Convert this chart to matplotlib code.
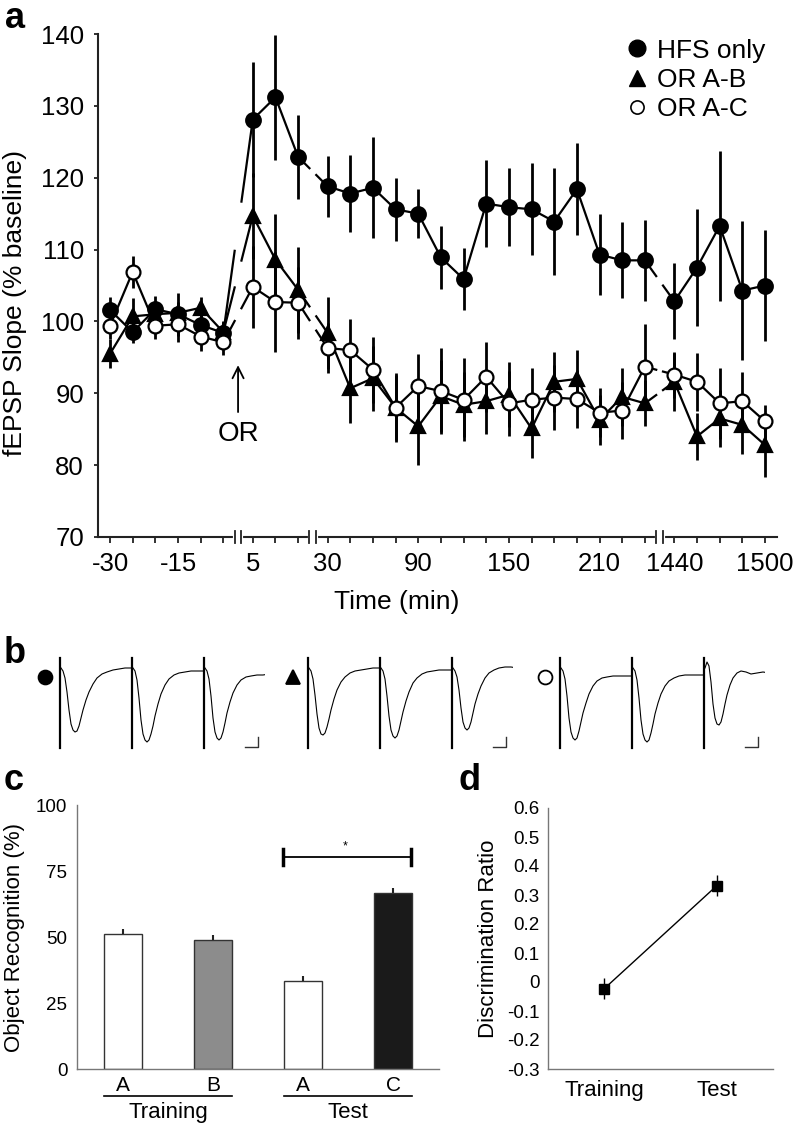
import numpy as np
import matplotlib.pyplot as plt
from matplotlib.lines import Line2D
import matplotlib.transforms as mtransforms

plt.rcParams['font.family'] = ['Liberation Sans', 'DejaVu Sans']

# ---- panel a: fEPSP slope (% baseline) ----
times_base = [-30, -25, -20, -15, -10, -5]
times_post = [5, 10, 15]
times_mid = [30, 45, 60, 75, 90, 105, 120, 135, 150, 165, 180, 195, 210, 225, 240]
times_late = [1440, 1455, 1470, 1485, 1500]
time_labels = [-30, -15, 5, 30, 90, 150, 210, 1440, 1500]

hfs_only = [101.6, 98.5, 101.7, 101.0, 99.5, 98.4,
            128.1, 131.2, 122.9,
            118.8, 117.8, 118.6, 115.6, 115.0, 108.9, 105.9, 116.4, 115.9, 115.6,
            113.9, 118.4, 109.3, 108.5, 108.5,
            102.8, 107.5, 113.3, 104.3, 105.0]
hfs_only_err = [1.8, 1.5, 1.8, 3.0, 1.5, 1.5,
                8.0, 8.7, 5.8,
                4.2, 5.3, 7.0, 4.4, 3.4, 4.4, 4.3, 6.0, 5.4, 6.4,
                7.5, 6.4, 5.6, 5.3, 5.6,
                5.3, 8.2, 10.4, 9.7, 7.7]
or_ab = [95.5, 100.7, 101.0, 101.2, 101.9, 98.5,
         114.7, 108.6, 104.4,
         98.4, 90.7, 92.1, 88.0, 85.4, 89.6, 88.4, 88.9, 89.8, 85.1,
         91.6, 92.0, 86.3, 89.5, 88.6,
         91.6, 84.0, 86.5, 85.6, 82.8]
or_ab_err = [2.0, 2.5, 1.5, 1.5, 1.5, 1.5,
             6.0, 6.3, 6.0,
             5.0, 4.8, 4.5, 4.8, 5.4, 5.0, 4.5, 4.5, 4.5, 4.1,
             4.2, 4.0, 3.5, 4.0, 3.2,
             4.0, 3.3, 4.0, 4.0, 4.4]
or_ac = [99.4, 106.9, 99.4, 99.6, 97.9, 97.1,
         104.8, 102.7, 102.6,
         96.3, 96.0, 93.3, 88.0, 91.0, 90.3, 89.1, 92.3, 88.6, 89.1,
         89.4, 89.2, 87.3, 87.6, 93.7,
         92.6, 91.6, 88.6, 88.9, 86.1]
or_ac_err = [1.8, 2.2, 1.8, 2.5, 2.0, 1.8,
             5.7, 6.9, 5.0,
             3.5, 4.3, 4.6, 4.5, 4.4, 6.0, 5.8, 4.9, 4.5, 4.4,
             4.5, 4.0, 3.4, 4.0, 5.9,
             3.2, 4.0, 4.9, 4.1, 2.3]

# ---- panel b: example fEPSP sweeps (pre, post, 24 h) ----
sweep_t = [0, 2, 4, 6, 8, 10, 12, 14, 16, 18, 20, 22, 25, 28, 32, 36, 41, 46, 52, 58, 64, 70]
hfs_sweeps = [
    [0, -3, -10, -24, -42, -56, -62, -64, -63, -58, -50, -42, -32, -24, -16, -10, -6, -4, -2, -1, 0, 0],
    [0, -3, -12, -30, -52, -66, -72, -74, -72, -66, -58, -48, -36, -26, -17, -11, -7, -5, -4, -3, -3, -3],
    [0, -3, -11, -28, -50, -64, -70, -72, -70, -64, -55, -45, -34, -25, -17, -12, -9, -8, -7, -7, -6, -6],
]
orab_sweeps = [
    [0, -3, -11, -27, -46, -60, -66, -67, -65, -59, -51, -42, -31, -22, -14, -9, -5, -3, -2, -1, 0, 0],
    [0, -3, -11, -28, -48, -62, -68, -70, -68, -62, -53, -44, -33, -24, -15, -10, -6, -4, -3, -2, -2, -2],
    [0, -3, -9, -22, -40, -54, -60, -62, -60, -54, -45, -36, -26, -18, -10, -5, -2, 0, 1, 1, 0, -1],
]
orac_sweeps = [
    [0, -3, -11, -28, -50, -64, -70, -72, -70, -63, -54, -45, -35, -26, -18, -13, -10, -9, -8, -8, -8, -8],
    [0, -3, -12, -30, -52, -66, -72, -74, -72, -65, -56, -46, -35, -26, -18, -13, -10, -8, -7, -7, -7, -7],
    [0, 6, 2, -14, -36, -50, -56, -57, -54, -46, -36, -27, -17, -10, -5, -3, -4, -6, -5, -4, -5, -4],
]

# ---- panel c: object recognition ----
obj_labels = ['A', 'B', 'A', 'C']
obj_groups = ['Training', 'Test']
obj_values = [51.0, 49.0, 33.3, 66.8]
obj_err = [1.9, 1.8, 1.9, 1.6]
obj_colors = ['white', '#8c8c8c', 'white', '#1a1a1a']

# ---- panel d: discrimination ratio ----
disc_labels = ['Training', 'Test']
disc_values = [-0.023, 0.332]
disc_err = [0.036, 0.036]
disc_ticks = [-0.3, -0.2, -0.1, 0, 0.1, 0.2, 0.3, 0.4, 0.5, 0.6]

W, H = 797, 1126
fig = plt.figure(figsize=(W / 100, H / 100), dpi=100)


def px_axes(x0, y0, x1, y1):
    # pixel box (top-left origin) -> figure axes
    return fig.add_axes([x0 / W, 1 - y1 / H, (x1 - x0) / W, (y1 - y0) / H])


def panel_letter(x, y_base, s):
    fig.text(x / W, 1 - y_base / H, s, fontsize=26, fontweight='bold',
             va='baseline', ha='left')


# ================= panel a =================
ax = px_axes(98, 34, 777, 537)
segments = [times_base, times_post, times_mid, times_late]
seg_gap = 0.3
seg_pos = []
start = 0
for k, seg in enumerate(segments):
    seg_pos.append(np.arange(start, start + len(seg)) + seg_gap * k)
    start += len(seg)
all_pos = np.concatenate(seg_pos)
all_times = sum(segments, [])
breaks = [(seg_pos[k][-1] + seg_pos[k + 1][0]) / 2 for k in range(len(segments) - 1)]
half_gap = 0.15


def draw_series(vals, errs, marker, face, ms, z):
    vals = np.asarray(vals)
    ax.errorbar(all_pos, vals, yerr=errs, fmt='none', ecolor='k', elinewidth=2.0,
                capsize=0, zorder=z)
    idx = 0
    for k, pos in enumerate(seg_pos):
        n = len(pos)
        ax.plot(pos, vals[idx:idx + n], color='k', lw=1.6, zorder=z + 0.1)
        if k < len(seg_pos) - 1:
            xa, ya = pos[-1], vals[idx + n - 1]
            xb, yb = seg_pos[k + 1][0], vals[idx + n]
            xm1, xm2 = breaks[k] - half_gap, breaks[k] + half_gap
            ym1 = ya + (yb - ya) * (xm1 - xa) / (xb - xa)
            ym2 = ya + (yb - ya) * (xm2 - xa) / (xb - xa)
            ax.plot([xa, xm1], [ya, ym1], color='k', lw=1.6, zorder=z + 0.1)
            ax.plot([xm2, xb], [ym2, yb], color='k', lw=1.6, zorder=z + 0.1)
        idx += n
    ax.plot(all_pos, vals, ls='none', marker=marker, ms=ms, mfc=face, mec='k',
            mew=1.6, zorder=z + 0.2)


draw_series(hfs_only, hfs_only_err, 'o', 'k', 10.5, 3)
draw_series(or_ab, or_ab_err, '^', 'k', 10, 4)
draw_series(or_ac, or_ac_err, 'o', 'white', 10, 5)

ax.set_xlim(-0.53, 29.43)
ax.set_ylim(70, 140)
ax.set_yticks(range(70, 141, 10))
ax.set_xticks(all_pos)
ax.set_xticklabels([str(t) if t in time_labels else '' for t in all_times])
ax.tick_params(axis='x', length=4.5, width=1.3, pad=6, labelsize=18.5, color='#222222')
ax.tick_params(axis='y', length=3, width=1.3, pad=7, labelsize=18.5, color='#222222')
for s in ['top', 'right']:
    ax.spines[s].set_visible(False)
for s in ['left', 'bottom']:
    ax.spines[s].set_linewidth(1.5)
    ax.spines[s].set_color('#222222')

# axis breaks
trans = mtransforms.blended_transform_factory(ax.transData, ax.transAxes)
for b in breaks:
    ax.plot([b - half_gap + 0.02, b + half_gap - 0.02], [0, 0], color='white', lw=3,
            transform=trans, clip_on=False, zorder=10)
    for xb in (b - half_gap, b + half_gap):
        ax.plot([xb, xb], [-0.011, 0.011], color='#222222', lw=1.3, transform=trans,
                clip_on=False, zorder=11)

ax.set_ylabel('fEPSP Slope (% baseline)', fontsize=19)
ax.yaxis.set_label_coords(-0.104, 0.465)
ax.set_xlabel('Time (min)', fontsize=19)
ax.xaxis.set_label_coords(0.44, -0.105)

ax.annotate('', xy=(breaks[0], 94.3), xytext=(breaks[0], 87.0),
            arrowprops=dict(arrowstyle='->', lw=1.3, color='k', mutation_scale=20))
ax.text(breaks[0], 84.3, 'OR', ha='center', va='center', fontsize=20)

handles = [Line2D([], [], ls='none', marker='o', ms=12, mfc='k', mec='k'),
           Line2D([], [], ls='none', marker='^', ms=11, mfc='k', mec='k'),
           Line2D([], [], ls='none', marker='o', ms=9.5, mfc='white', mec='k', mew=1.2)]
ax.legend(handles, ['HFS only', 'OR A-B', 'OR A-C'], loc='upper left',
          bbox_to_anchor=(0.763, 1.012), frameon=False, fontsize=19, handlelength=0.8,
          handletextpad=0.35, labelspacing=0.2, borderaxespad=0)

panel_letter(5, 27.5, 'a')

# ================= panel b =================
panel_letter(4, 663, 'b')
group_left = [40, 288, 540]
group_sweeps = [hfs_sweeps, orab_sweeps, orac_sweeps]
group_marker = [('o', 'k'), ('^', 'k'), ('o', 'white')]
sweep_step = 72
for gl, sweeps, (mk, mf) in zip(group_left, group_sweeps, group_marker):
    bx = px_axes(gl, 655, gl + 225, 755)
    bx.set_xlim(-20, 205)
    bx.set_ylim(-87, 13)
    bx.axis('off')
    for i, v in enumerate(sweeps):
        t0 = i * sweep_step
        bx.plot([t0, t0], [10, -80], color='k', lw=1.6)
        bx.plot(np.asarray(sweep_t) + t0 + 1, v, color='k', lw=0.8)
    bx.plot([185, 198, 198], [-79, -79, -69], color='#333333', lw=1.0)
    bx.plot([0.02], [0.78], marker=mk, ms=10, mfc=mf, mec='k', mew=1.3,
            transform=bx.transAxes, clip_on=False)

# ================= panel c =================
cx = px_axes(77, 805, 439, 1069)
xc = np.arange(len(obj_values))
cx.bar(xc, obj_values, width=0.43, color=obj_colors, edgecolor='#333333', lw=1.0,
       yerr=[np.zeros(len(obj_err)), obj_err], error_kw=dict(elinewidth=1.5, capsize=0,
                                                             ecolor='#222222'))
cx.set_xlim(-0.51, 3.51)
cx.set_ylim(0, 100)
cx.set_yticks([0, 25, 50, 75, 100])
cx.set_xticks(xc)
cx.set_xticklabels(obj_labels, fontsize=15)
cx.tick_params(axis='y', length=0, labelsize=13.5, pad=7)
cx.tick_params(axis='x', length=0, pad=5)
for s in ['top', 'right']:
    cx.spines[s].set_visible(False)
for s in ['left', 'bottom']:
    cx.spines[s].set_color('#777777')
    cx.spines[s].set_linewidth(1.0)
cx.set_ylabel('Object Recognition (%)', fontsize=16, labelpad=8)

ctrans = mtransforms.blended_transform_factory(cx.transData, cx.transAxes)
for g, name in enumerate(obj_groups):
    x0, x1 = 2 * g - 0.215, 2 * g + 1 + 0.215
    cx.plot([x0, x1], [-0.102, -0.102], color='k', lw=1.2, transform=ctrans, clip_on=False)
    cx.text(2 * g + 0.5, -0.165, name, ha='center', va='center', fontsize=16,
            transform=ctrans)

# significance bracket between Test A and Test C
sig_y = 80.3
cx.plot([2 - 0.22, 3 + 0.2], [sig_y, sig_y], color='k', lw=1.3)
for xe in (2 - 0.22, 3 + 0.2):
    cx.plot([xe, xe], [sig_y - 3, sig_y + 3], color='k', lw=2.5)
cx.text(2.47, sig_y + 4.0, '*', ha='center', va='center', fontsize=9)

panel_letter(4, 790, 'c')

# ================= panel d =================
dx = px_axes(548, 808, 773, 1069)
dx.errorbar(range(len(disc_values)), disc_values, yerr=disc_err, color='k', lw=1.0,
            marker='s', ms=6.5, elinewidth=1.0, capsize=0)
dx.set_xlim(-0.5, 1.5)
dx.set_ylim(-0.3, 0.6)
dx.set_yticks(disc_ticks)
dx.set_yticklabels([f'{v:g}' for v in disc_ticks])
dx.set_xticks(range(len(disc_labels)))
dx.set_xticklabels(disc_labels)
dx.tick_params(axis='y', length=0, labelsize=13.5, pad=6)
dx.tick_params(axis='x', length=0, labelsize=16, pad=8)
for s in ['top', 'right']:
    dx.spines[s].set_visible(False)
for s in ['left', 'bottom']:
    dx.spines[s].set_color('#777777')
    dx.spines[s].set_linewidth(1.0)
dx.set_ylabel('Discrimination Ratio', fontsize=16, labelpad=6)

panel_letter(459, 790, 'd')

fig.savefig('out.png', dpi=100)
